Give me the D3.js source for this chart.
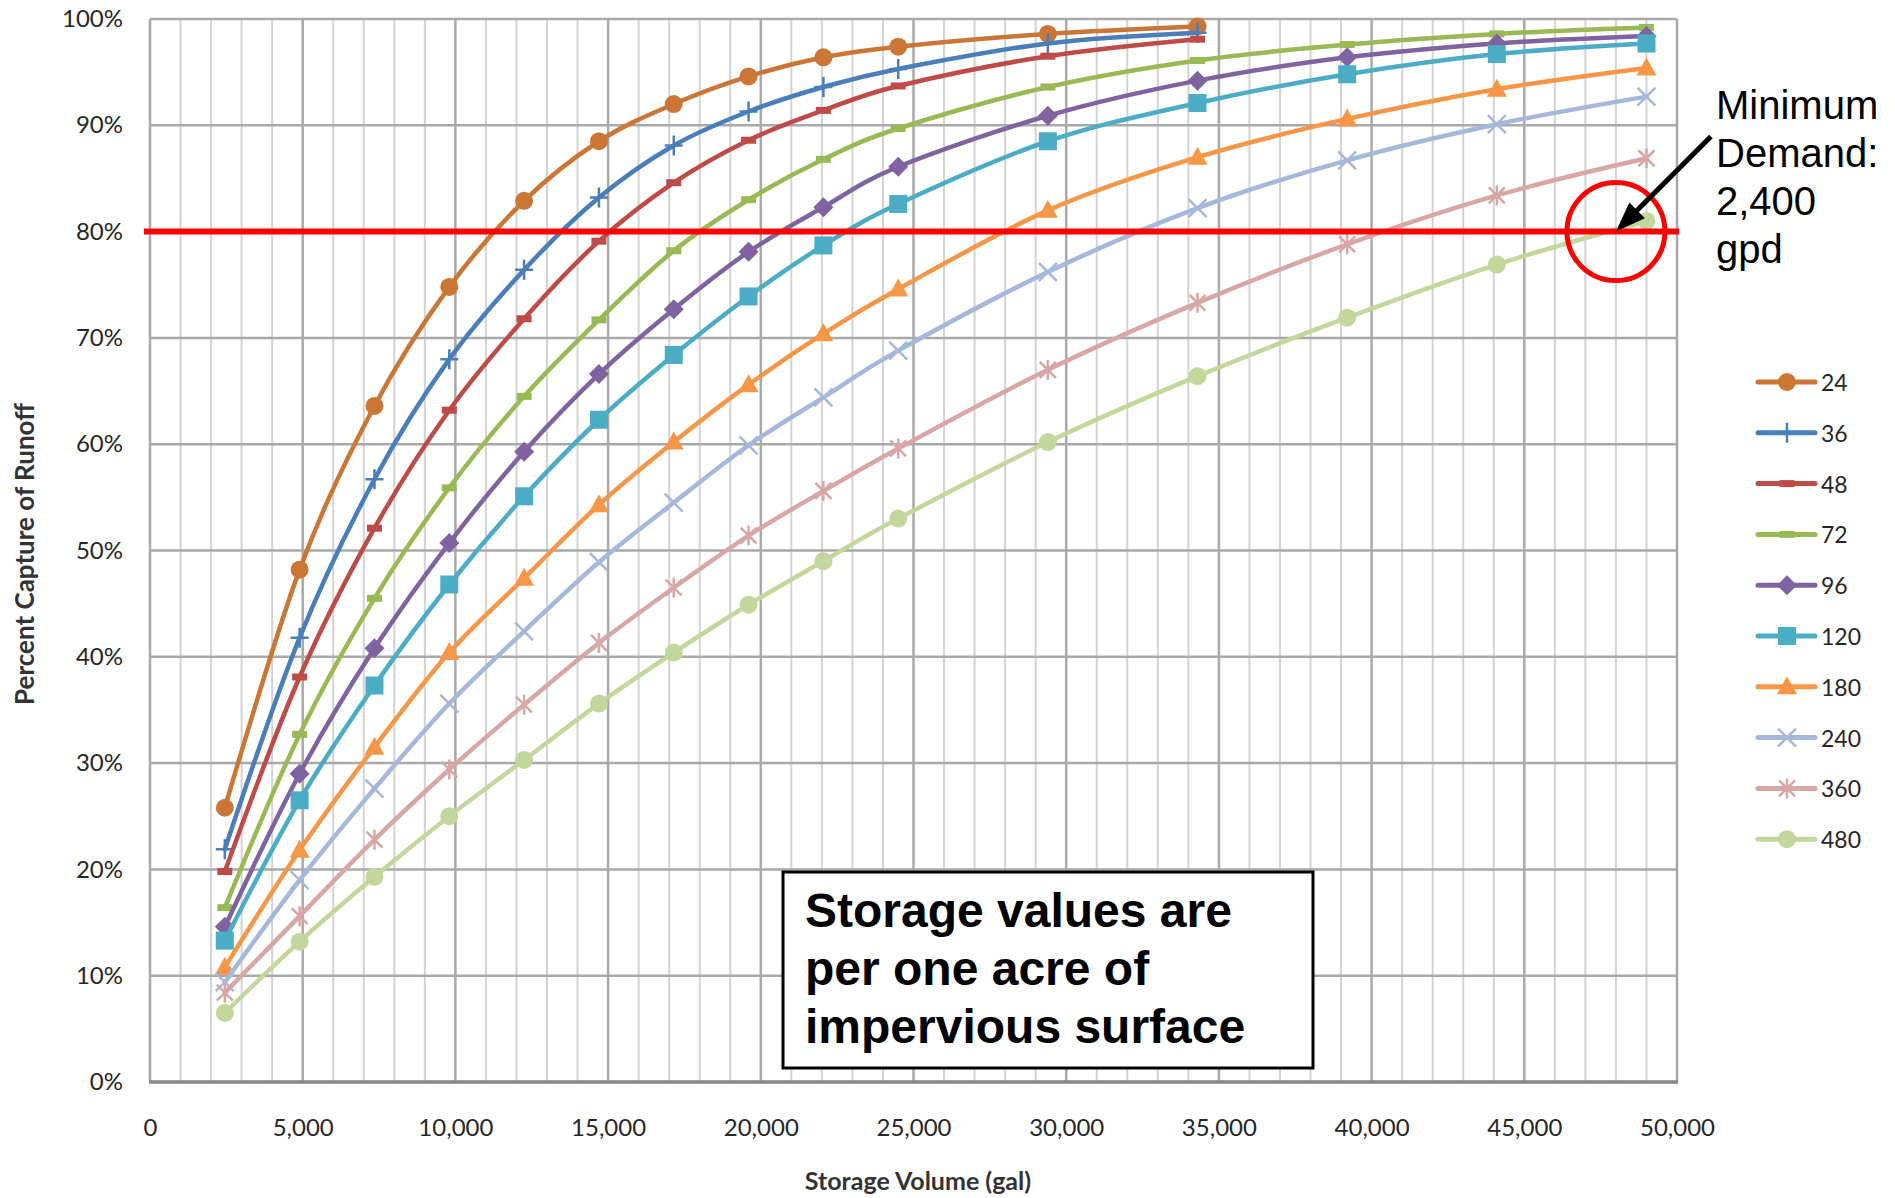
<!DOCTYPE html>
<html>
<head>
<meta charset="utf-8">
<script src="https://cdn.jsdelivr.net/npm/d3@7"></script>
<style>
  body { margin: 0; background: #fff; }
  text { font-family: Lato, "Open Sans", sans-serif; }
  .note { font-family: "Liberation Sans", Arial, sans-serif; }
</style>
</head>
<body>
<svg id="chart" width="1895" height="1198"></svg>
<script>
// storage volume (gal) for each point
const storageGal = [2450, 4900, 7350, 9800, 12250, 14700, 17150, 19600, 22050, 24500, 29400, 34300, 39200, 44100, 49000];

const seriesLabels = ['24', '36', '48', '72', '96', '120', '180', '240', '360', '480'];

// percent capture, one array per series
const capture24  = [25.8, 48.2, 63.6, 74.8, 82.9, 88.5, 92.0, 94.6, 96.4, 97.4, 98.6, 99.3];
const capture36  = [21.9, 41.8, 56.7, 68.0, 76.4, 83.2, 88.1, 91.3, 93.6, 95.3, 97.7, 98.7];
const capture48  = [19.8, 38.1, 52.1, 63.2, 71.8, 79.1, 84.6, 88.6, 91.4, 93.7, 96.5, 98.1];
const capture72  = [16.4, 32.7, 45.5, 55.9, 64.5, 71.7, 78.2, 83.0, 86.8, 89.7, 93.6, 96.1, 97.6, 98.6, 99.2];
const capture96  = [14.6, 29.0, 40.8, 50.7, 59.3, 66.6, 72.7, 78.1, 82.3, 86.1, 90.9, 94.2, 96.4, 97.7, 98.4];
const capture120 = [13.3, 26.5, 37.3, 46.8, 55.1, 62.3, 68.4, 73.9, 78.7, 82.6, 88.5, 92.1, 94.8, 96.7, 97.7];
const capture180 = [10.8, 21.8, 31.5, 40.4, 47.4, 54.3, 60.2, 65.6, 70.4, 74.6, 82.0, 87.0, 90.6, 93.4, 95.4];
const capture240 = [9.4, 19.0, 27.6, 35.6, 42.4, 48.9, 54.5, 59.9, 64.4, 68.8, 76.2, 82.2, 86.7, 90.1, 92.7];
const capture360 = [8.4, 15.6, 22.8, 29.4, 35.5, 41.3, 46.5, 51.4, 55.6, 59.6, 67.0, 73.3, 78.8, 83.4, 86.9];
const capture480 = [6.5, 13.2, 19.3, 25.0, 30.3, 35.6, 40.4, 44.9, 49.0, 53.0, 60.2, 66.4, 71.9, 76.9, 81.0];

const seriesValues = [capture24, capture36, capture48, capture72, capture96,
                      capture120, capture180, capture240, capture360, capture480];

const xTickValues = [0, 5000, 10000, 15000, 20000, 25000, 30000, 35000, 40000, 45000, 50000];
const yTickValues = [0, 10, 20, 30, 40, 50, 60, 70, 80, 90, 100];

const targetCapture = 80;
const demandStorage = 48000;
const demandNote = ['Minimum', 'Demand:', '2,400', 'gpd'];
const boxNote = ['Storage values are', 'per one acre of', 'impervious surface'];

const colors = ['#CB7634', '#4A7EBB', '#BE4B48', '#98B954', '#7F63A1',
                '#4BACC6', '#F79646', '#A5B8DB', '#D8A6A5', '#C3D69B'];
const markers = ['circle', 'plus', 'dash', 'dash', 'diamond',
                 'square', 'triangle', 'x', 'star', 'circle'];

const svg = d3.select('#chart');

const x = d3.scaleLinear().domain([0, 50000]).range([150, 1677]);
const y = d3.scaleLinear().domain([0, 100]).range([1082, 19]);

// grid
const grid = svg.append('g');
grid.selectAll('.minor')
    .data(x.ticks(50).filter(d => d % 5000 !== 0))
  .enter().append('line')
    .attr('x1', d => x(d)).attr('x2', d => x(d))
    .attr('y1', y(100)).attr('y2', y(0))
    .attr('stroke', '#D3D3D3').attr('stroke-width', 2);
grid.selectAll('.vmajor')
    .data(xTickValues)
  .enter().append('line')
    .attr('x1', d => x(d)).attr('x2', d => x(d))
    .attr('y1', y(100)).attr('y2', y(0))
    .attr('stroke', '#A9A9A9').attr('stroke-width', 2.5);
grid.selectAll('.hmajor')
    .data(yTickValues)
  .enter().append('line')
    .attr('x1', x(0)).attr('x2', x(50000))
    .attr('y1', d => y(d)).attr('y2', d => y(d))
    .attr('stroke', '#A9A9A9').attr('stroke-width', 2.5);
grid.append('line')
    .attr('x1', x(0) - 1).attr('x2', x(50000) + 1)
    .attr('y1', y(0)).attr('y2', y(0))
    .attr('stroke', '#888').attr('stroke-width', 3.5);

// axes (labels only)
const yAxis = svg.append('g')
    .attr('transform', `translate(${x(0)},0)`)
    .call(d3.axisLeft(y).tickValues(yTickValues).tickSize(0).tickPadding(27).tickFormat(d => d + '%'));
const xAxis = svg.append('g')
    .attr('transform', `translate(0,${y(0)})`)
    .call(d3.axisBottom(x).tickValues(xTickValues).tickSize(0).tickPadding(37).tickFormat(d3.format(',')));
[yAxis, xAxis].forEach(a => {
    a.select('.domain').remove();
    a.selectAll('text')
        .attr('font-family', 'Lato, sans-serif')
        .attr('font-size', 24)
        .attr('fill', '#262626');
});

svg.append('text')
    .attr('transform', `translate(24,554) rotate(-90)`)
    .attr('text-anchor', 'middle').attr('dominant-baseline', 'central')
    .attr('font-size', 26).attr('font-weight', 'bold').attr('fill', '#333')
    .text('Percent Capture of Runoff');
svg.append('text')
    .attr('x', 918).attr('y', 1180)
    .attr('text-anchor', 'middle').attr('dominant-baseline', 'central')
    .attr('font-size', 25).attr('font-weight', 'bold').attr('fill', '#333')
    .text('Storage Volume (gal)');

function marker(sel, type, color) {
    if (type == 'circle') {
        sel.append('circle').attr('r', 9).attr('fill', color);
    } else if (type == 'square') {
        sel.append('rect').attr('x', -9).attr('y', -9).attr('width', 18).attr('height', 18).attr('fill', color);
    } else if (type == 'diamond') {
        sel.append('path').attr('d', 'M0,-10L10,0L0,10L-10,0Z').attr('fill', color);
    } else if (type == 'triangle') {
        sel.append('path').attr('d', 'M0,-10.5L10,7.5L-10,7.5Z').attr('fill', color);
    } else if (type == 'dash') {
        sel.append('rect').attr('x', -7.5).attr('y', -3.5).attr('width', 15).attr('height', 7).attr('fill', color);
    } else {
        const d = {
            plus: 'M-9,0H9M0,-10V10',
            x: 'M-9,-9L9,9M-9,9L9,-9',
            star: 'M-8,-8L8,8M-8,8L8,-8M0,-10V10'
        }[type];
        sel.append('path').attr('d', d).attr('stroke', color).attr('stroke-width', 2.5).attr('fill', 'none');
    }
}

const line = d3.line()
    .x((d, i) => x(storageGal[i]))
    .y(d => y(d))
    .curve(d3.curveCatmullRom.alpha(0));

const plot = svg.append('g');
seriesValues.forEach((vals, s) => {
    const g = plot.append('g');
    g.append('path')
        .attr('d', line(vals))
        .attr('fill', 'none')
        .attr('stroke', colors[s])
        .attr('stroke-width', 4.5)
        .attr('stroke-linecap', 'round')
        .attr('stroke-linejoin', 'round');
    vals.forEach((v, i) => {
        const m = g.append('g').attr('transform', `translate(${x(storageGal[i])},${y(v)})`);
        marker(m, markers[s], colors[s]);
    });
});

// legend
const legend = svg.append('g');
seriesLabels.forEach((name, i) => {
    const ly = 382 + i * 50.8;
    legend.append('line')
        .attr('x1', 1758).attr('x2', 1815).attr('y1', ly).attr('y2', ly)
        .attr('stroke', colors[i]).attr('stroke-width', 5).attr('stroke-linecap', 'round');
    marker(legend.append('g').attr('transform', `translate(1787,${ly})`), markers[i], colors[i]);
    legend.append('text')
        .attr('x', 1821).attr('y', ly)
        .attr('dominant-baseline', 'central')
        .attr('font-size', 23).attr('fill', '#262626')
        .text(name);
});

// 80% target line
svg.append('line')
    .attr('x1', x(0) - 6).attr('x2', x(50000) + 2)
    .attr('y1', y(targetCapture)).attr('y2', y(targetCapture))
    .attr('stroke', '#FF0000').attr('stroke-width', 6);

const cx = x(demandStorage), cy = y(targetCapture);
svg.append('circle')
    .attr('cx', cx).attr('cy', cy).attr('r', 49)
    .attr('fill', 'none').attr('stroke', '#FF0000').attr('stroke-width', 5);

// arrow
svg.append('line')
    .attr('x1', cx + 95).attr('y1', cy - 95)
    .attr('x2', cx + 14).attr('y2', cy - 14)
    .attr('stroke', '#000').attr('stroke-width', 5);
svg.append('path')
    .attr('transform', `translate(${cx},${cy}) rotate(-45)`)
    .attr('d', 'M0,0L30,-11L30,11Z')
    .attr('fill', '#000');

svg.append('g').selectAll('text')
    .data(demandNote)
  .enter().append('text')
    .attr('class', 'note')
    .attr('x', 1716).attr('y', (d, i) => 119 + i * 48)
    .attr('font-size', 40).attr('fill', '#000')
    .text(d => d);

// note box
svg.append('rect')
    .attr('x', 783).attr('y', 872).attr('width', 530).attr('height', 196)
    .attr('fill', '#fff').attr('stroke', '#000').attr('stroke-width', 3);
svg.append('g').selectAll('text')
    .data(boxNote)
  .enter().append('text')
    .attr('class', 'note')
    .attr('x', 805).attr('y', (d, i) => 927 + i * 58)
    .attr('font-size', 48).attr('font-weight', 'bold').attr('fill', '#000')
    .text(d => d);
</script>
</body>
</html>
